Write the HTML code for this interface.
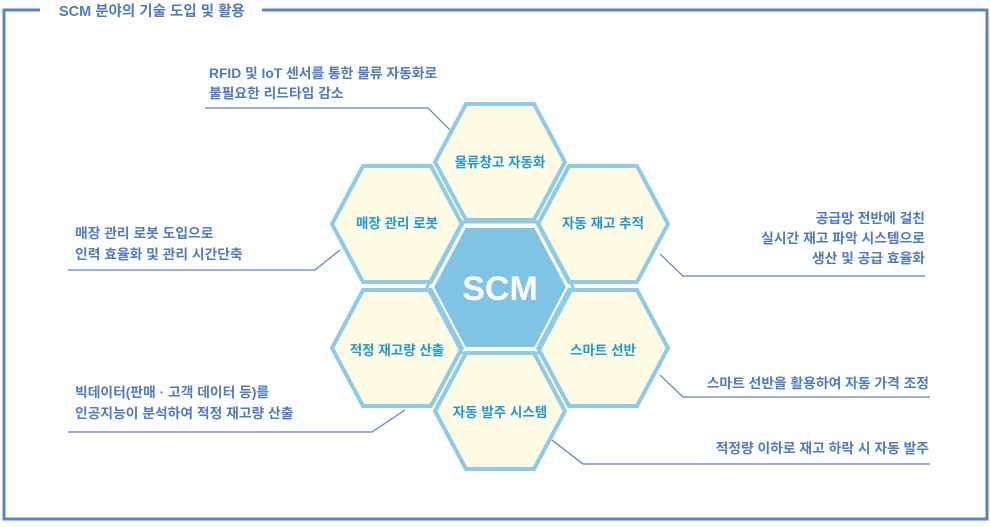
<!DOCTYPE html>
<html><head><meta charset="utf-8"><style>
html,body{margin:0;padding:0;background:#fff;}
svg text{font-family:"Liberation Sans","Noto Sans CJK KR",sans-serif;font-weight:bold;}
</style></head><body>
<svg width="990" height="522" viewBox="0 0 990 522" xmlns="http://www.w3.org/2000/svg">
<path d="M40 10 H4 V519 H987 V10 H262" fill="none" stroke="#5d82c8" stroke-width="3"/>
<text x="59" y="16" font-size="14.5" fill="#4d7bc4">SCM 분야의 기술 도입 및 활용</text>
<g fill="none" stroke="#5d7fc4" stroke-width="1.2">
<path d="M205 108 H428 L450 130"/>
<path d="M68 270 H315 L340 250"/>
<path d="M660 254 L683 276 H925"/>
<path d="M68 432 H372 L405 410"/>
<path d="M660 375 L683 397 H930"/>
<path d="M552 440 L583 464 H930"/>
</g>
<g font-size="13.8" fill="#4f7bc4">
<text x="209" y="78">RFID 및 IoT 센서를 통한 물류 자동화로</text>
<text x="209" y="98">불필요한 리드타임 감소</text>
<text x="75" y="238">매장 관리 로봇 도입으로</text>
<text x="75" y="259">인력 효율화 및 관리 시간단축</text>
<text x="75" y="397">빅데이터(판매 · 고객 데이터 등)를</text>
<text x="75" y="418">인공지능이 분석하여 적정 재고량 산출</text>
<g text-anchor="end">
<text x="925" y="223">공급망 전반에 걸친</text>
<text x="925" y="243">실시간 재고 파악 시스템으로</text>
<text x="925" y="263">생산 및 공급 효율화</text>
<text x="929" y="388">스마트 선반을 활용하여 자동 가격 조정</text>
<text x="929" y="453">적정량 이하로 재고 하락 시 자동 발주</text>
</g>
</g>
<defs>
<polygon id="h" points="-65,0 -34,-58 34,-58 65,0 34,58 -34,58"/>
</defs>
<g fill="#fdfbe4" stroke="#8dcbe7" stroke-width="4">
<use href="#h" x="500" y="162"/>
<use href="#h" x="397" y="224"/>
<use href="#h" x="603" y="224"/>
<use href="#h" x="397" y="348"/>
<use href="#h" x="603" y="348"/>
<use href="#h" x="500" y="411"/>
</g>
<polygon points="433,287 465,227 535,227 567,287 535,348 465,348" fill="#80c4e5" stroke="#fff" stroke-width="2"/>
<polygon points="427,287 462,222 538,222 573,287 538,353 462,353" fill="none" stroke="#8dcbe7" stroke-width="3"/>
<text x="500" y="300" font-size="34" fill="#fff" text-anchor="middle">SCM</text>
<g font-size="13.5" fill="#1d9ad6" text-anchor="middle">
<text x="500" y="167">물류창고 자동화</text>
<text x="397" y="228">매장 관리 로봇</text>
<text x="603" y="228">자동 재고 추적</text>
<text x="397" y="355">적정 재고량 산출</text>
<text x="603" y="355">스마트 선반</text>
<text x="500" y="417">자동 발주 시스템</text>
</g>
</svg>
</body></html>
